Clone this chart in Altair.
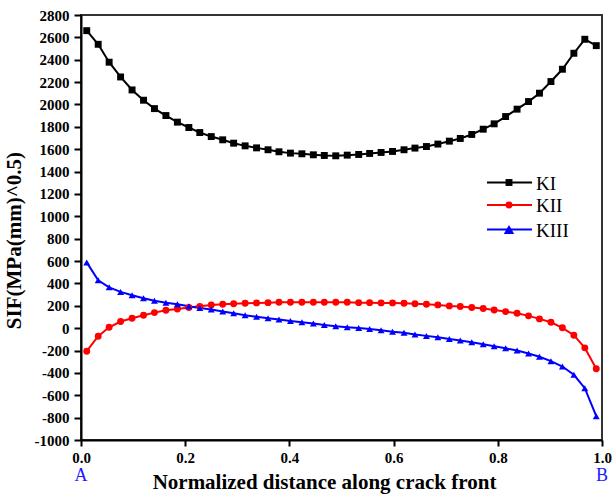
import altair as alt
import pandas as pd

series_names = ["KI", "KII", "KIII"]
series_colors = ["black", "red", "blue"]
series_shapes = ["square", "circle", "triangle-up"]

x_pos = [0.011, 0.033, 0.054, 0.076, 0.098, 0.120, 0.141, 0.163, 0.185, 0.207,
         0.228, 0.250, 0.272, 0.293, 0.315, 0.337, 0.359, 0.380, 0.402, 0.424,
         0.446, 0.467, 0.489, 0.511, 0.533, 0.554, 0.576, 0.598, 0.620, 0.641,
         0.663, 0.685, 0.707, 0.728, 0.750, 0.772, 0.793, 0.815, 0.837, 0.859,
         0.880, 0.902, 0.924, 0.946, 0.967, 0.989]

ki = [2660, 2538, 2378, 2246, 2130, 2038, 1963, 1901, 1842, 1794,
      1749, 1713, 1684, 1654, 1630, 1612, 1595, 1577, 1565, 1559,
      1550, 1544, 1541, 1547, 1553, 1562, 1571, 1580, 1595, 1610,
      1624, 1646, 1672, 1696, 1732, 1779, 1827, 1892, 1958, 2026,
      2101, 2205, 2315, 2458, 2583, 2526]

kii = [-206, -72, 8, 59, 88, 115, 139, 160, 172, 184,
       195, 208, 213, 219, 222, 226, 228, 231, 231, 231,
       231, 231, 231, 231, 228, 228, 226, 226, 222, 219,
       213, 208, 199, 193, 184, 175, 163, 148, 133, 110,
       83, 53, 3, -63, -176, -363]

kiii = [588, 428, 365, 324, 294, 267, 246, 228, 213, 195,
        181, 166, 148, 133, 115, 101, 88, 77, 65, 53,
        41, 29, 18, 9, 1, -7, -19, -33, -42, -57,
        -69, -81, -96, -111, -126, -144, -162, -180, -200, -227,
        -256, -295, -343, -417, -537, -787]

x_ticks = [0.0, 0.2, 0.4, 0.6, 0.8, 1.0]
y_ticks = list(range(-1000, 2801, 200))
end_labels = ["A", "B"]
end_x = [0.0, 1.0]

FONT = "Liberation Serif"
marker_sizes = [48, 48, 110]

rows = []
for name, vals in zip(series_names, [ki, kii, kiii]):
    for xv, yv in zip(x_pos, vals):
        rows.append({"x": xv, "SIF": yv, "series": name})
df = pd.DataFrame(rows)

x_enc = alt.X("x:Q",
              scale=alt.Scale(domain=[0, 1], nice=False, zero=False),
              axis=alt.Axis(values=x_ticks, format=".1f", tickCount=10,
                            title="Normalized distance along crack front",
                            titlePadding=6, titleX=243))
y_enc = alt.Y("SIF:Q",
              scale=alt.Scale(domain=[-1000, 2800], nice=False, zero=False),
              axis=alt.Axis(values=y_ticks, tickCount=40,
                            labelExpr="'' + datum.value",
                            title="SIF(MPa(mm)^0.5)", titlePadding=10,
                            titleY=225))
color_enc = alt.Color("series:N",
                      scale=alt.Scale(domain=series_names, range=series_colors),
                      legend=None)
shape_enc = alt.Shape("series:N",
                      scale=alt.Scale(domain=series_names, range=series_shapes),
                      legend=None)
size_enc = alt.Size("series:N",
                    scale=alt.Scale(domain=series_names, range=marker_sizes),
                    legend=None)

base = alt.Chart(df)
lines = base.mark_line(strokeWidth=2).encode(x=x_enc, y=y_enc, color=color_enc,
                                              detail="series:N")
points = base.mark_point(filled=True, opacity=1).encode(
    x="x:Q", y="SIF:Q", color=color_enc, shape=shape_enc, size=size_enc)

ends_df = pd.DataFrame({"x": end_x, "label": end_labels})
ends = alt.Chart(ends_df).mark_text(font=FONT, fontSize=18, color="#1a1aff",
                                    baseline="middle", align="center").encode(
    x="x:Q", y=alt.value(461), text="label:N")

legend_layers = []
leg_y = [167.5, 190, 214.5]
for name, col, shp, ly, ms in zip(series_names, series_colors, series_shapes,
                                  leg_y, marker_sizes):
    ldf = pd.DataFrame({"label": [name]})
    lc = alt.Chart(ldf)
    legend_layers.append(lc.mark_rule(color=col, strokeWidth=2).encode(
        x=alt.value(406), x2=alt.value(451), y=alt.value(ly)))
    legend_layers.append(lc.mark_point(filled=True, size=ms, opacity=1,
                                       color=col, shape=shp).encode(
        x=alt.value(428), y=alt.value(ly)))
    legend_layers.append(lc.mark_text(font=FONT, fontSize=19, color="black",
                                      align="left", baseline="middle").encode(
        x=alt.value(455), y=alt.value(ly + 1), text="label:N"))

chart = alt.layer(lines, points, ends, *legend_layers).properties(
    width=521, height=425,
    autosize=alt.AutoSizeParams(type="none"),
    padding={"left": 81, "top": 15, "right": 11, "bottom": 57},
).configure_view(stroke="#333333", strokeWidth=2).configure_axis(
    grid=False,
    domainColor="black", domainWidth=2,
    tickColor="black", tickWidth=2,
    labelFont=FONT, labelFontWeight="bold", labelFontSize=15, labelColor="black",
    labelOverlap=False, labelFlush=False, labelBound=False,
    titleFont=FONT, titleFontWeight="bold", titleFontSize=21, titleColor="black",
).configure_axisX(tickSize=6, labelPadding=4).configure_axisY(
    tickSize=7, labelPadding=5)

chart.save("out.html", embed_options={"renderer": "svg", "actions": False})
